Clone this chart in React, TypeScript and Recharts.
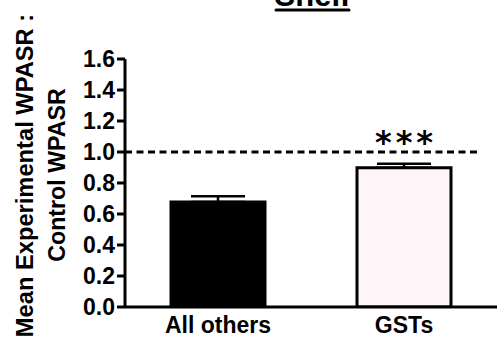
import React from "react";
import {
  BarChart,
  Bar,
  XAxis,
  YAxis,
  ErrorBar,
  ReferenceLine,
  Cell,
  LabelList,
} from "recharts";

const categories = ["All others", "GSTs"];
const means = [0.677, 0.899];
const sem = [0.037, 0.026];
const sigLabels = ["", "***"];
const fills = ["#000000", "#FFF4F8"];
const yTicks = [0, 0.2, 0.4, 0.6, 0.8, 1.0, 1.2, 1.4, 1.6];
const referenceValue = 1.0;
const title = "Shelf";
const yLabelLines = ["Mean Experimental WPASR :", "Control WPASR"];

const data = categories.map((c, i) => ({
  name: c,
  mean: means[i],
  err: [0, sem[i]],
  sig: sigLabels[i],
}));

const FONT = "'Liberation Sans', Arial, Helvetica, sans-serif";

const SigLabel = (props: any) => {
  const { x, y, width, value } = props;
  if (!value) return null;
  return (
    <text
      x={x + width / 2 + 2}
      y={y - 15}
      textAnchor="middle"
      fontFamily="'DejaVu Sans', sans-serif"
      fontWeight="bold"
      fontSize={32}
      letterSpacing={4}
      fill="#000"
    >
      {value}
    </text>
  );
};

const DashedRef = (p: any) => (
  <line
    x1={p.x1}
    y1={p.y1}
    x2={p.x2 - 16}
    y2={p.y2}
    stroke="#000"
    strokeWidth={3}
    strokeDasharray="7 4.5"
  />
);

export default function App() {
  return (
    <div style={{ position: "fixed", left: 0, top: 0, width: 497, height: 339, background: "#fff" }}>
      <BarChart
        width={497}
        height={339}
        data={data}
        margin={{ top: 59, right: 0, bottom: 0, left: 0 }}
        barCategoryGap="25%"
      >
        <text
          x={312.5}
          y={5.5}
          textAnchor="middle"
          fontFamily={FONT}
          fontWeight="bold"
          fontSize={31}
          fill="#000"
        >
          {title}
        </text>
        <line x1={276} y1={10} x2={349} y2={10} stroke="#000" strokeWidth={3} strokeLinecap="round" />
        <text
          transform="translate(33,175.5) rotate(-90)"
          textAnchor="middle"
          fontFamily={FONT}
          fontWeight="bold"
          fontSize={23.7}
          fill="#000"
        >
          {yLabelLines[0]}
        </text>
        <text
          transform="translate(65,175) rotate(-90)"
          textAnchor="middle"
          fontFamily={FONT}
          fontWeight="bold"
          fontSize={23.2}
          fill="#000"
        >
          {yLabelLines[1]}
        </text>
        <XAxis
          dataKey="name"
          height={32}
          tickLine={false}
          tickSize={0}
          tickMargin={10}
          axisLine={{ stroke: "#000", strokeWidth: 3 }}
          tick={{ fill: "#000", fontFamily: FONT, fontWeight: "bold", fontSize: 23 }}
          interval={0}
        />
        <YAxis
          width={125}
          domain={[0, 1.6]}
          ticks={yTicks}
          interval={0}
          tickFormatter={(v: number) => v.toFixed(1)}
          tickSize={8}
          tickMargin={2}
          axisLine={{ stroke: "#000", strokeWidth: 3 }}
          tickLine={{ stroke: "#000", strokeWidth: 3 }}
          tick={{ fill: "#000", fontFamily: FONT, fontWeight: "bold", fontSize: 23 }}
          allowDataOverflow
        />
        <ReferenceLine y={referenceValue} shape={DashedRef} />
        <Bar
          dataKey="mean"
          barSize={94}
          stroke="#000"
          strokeWidth={3}
          isAnimationActive={false}
        >
          {data.map((d, i) => (
            <Cell key={d.name} fill={fills[i]} />
          ))}
          <ErrorBar
            dataKey="err"
            direction="y"
            width={27}
            stroke="#000"
            strokeWidth={2.5}
            isAnimationActive={false}
          />
          <LabelList dataKey="sig" content={SigLabel} />
        </Bar>
      </BarChart>
    </div>
  );
}
